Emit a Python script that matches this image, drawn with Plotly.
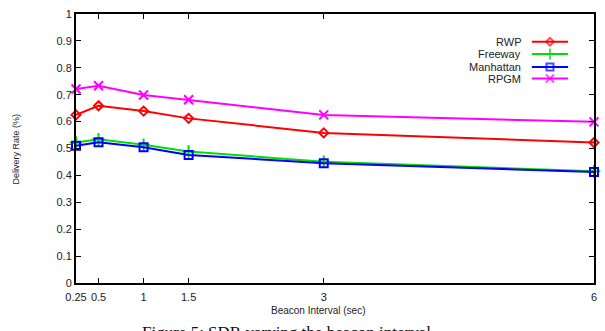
import plotly.graph_objects as go

# Beacon interval (sec) and delivery rate per mobility model
beacon = [0.25, 0.5, 1, 1.5, 3, 6]
rwp = [0.625, 0.659, 0.639, 0.612, 0.558, 0.522]
freeway = [0.522, 0.534, 0.514, 0.489, 0.451, 0.415]
manhattan = [0.510, 0.523, 0.505, 0.476, 0.445, 0.413]
rpgm = [0.721, 0.733, 0.699, 0.681, 0.625, 0.599]

names = ["RWP", "Freeway", "Manhattan", "RPGM"]
series = [rwp, freeway, manhattan, rpgm]
colors = ["#ff0000", "#00e000", "#0000ff", "#ff00ff"]
symbols = ["diamond-open", "cross-thin-open", "square-open", "x-thin-open"]
sizes = [7, 9, 8, 9]
key_sizes = [6, 8, 7, 8]

x_ticks = [0.25, 0.5, 1, 1.5, 3, 6]
x_tick_text = ["0.25", "0.5", "1", "1.5", "3", "6"]
y_ticks = [0, 0.1, 0.2, 0.3, 0.4, 0.5, 0.6, 0.7, 0.8, 0.9, 1]
y_tick_text = ["0", "0.1", "0.2", "0.3", "0.4", "0.5", "0.6", "0.7", "0.8", "0.9", "1"]

FONT = "Liberation Sans, Arial, sans-serif"

fig = go.Figure()
for name, ys, c, s, sz in zip(names, series, colors, symbols, sizes):
    fig.add_trace(go.Scatter(
        x=beacon, y=ys, name=name, mode="lines+markers",
        line=dict(color=c, width=2),
        marker=dict(symbol=s, size=sz, color=c, line=dict(color=c, width=2)),
        cliponaxis=False, showlegend=False,
    ))

# Key in the upper right: label on the left, line sample on the right
key_y = [0.897, 0.851, 0.803, 0.760]
for name, c, s, sz, ky in zip(names, colors, symbols, key_sizes, key_y):
    fig.add_trace(go.Scatter(
        x=[0.880, 0.915, 0.950], y=[ky, ky, ky], mode="lines+markers",
        line=dict(color=c, width=2),
        marker=dict(symbol=s, size=[0, sz, 0], color=c, line=dict(color=c, width=2)),
        xaxis="x2", yaxis="y2", showlegend=False, hoverinfo="skip", cliponaxis=False,
    ))
    fig.add_annotation(
        x=0.862, y=ky, xref="x2", yref="y2", text=name, showarrow=False,
        xanchor="right", yanchor="middle", font=dict(family=FONT, size=11, color="#222"),
    )

axis_common = dict(
    showline=True, linecolor="black", linewidth=2, mirror="allticks",
    ticks="inside", ticklen=5, tickwidth=1, tickcolor="black",
    showgrid=False, zeroline=False,
    tickfont=dict(family=FONT, size=11, color="#222"),
)

fig.update_layout(
    width=605, height=331,
    margin=dict(l=76, r=11, t=8, b=48),
    paper_bgcolor="white", plot_bgcolor="white",
    xaxis=dict(range=[0.25, 6], tickvals=x_ticks, ticktext=x_tick_text,
               ticklabelstandoff=3, **axis_common),
    yaxis=dict(range=[0, 1], tickvals=y_ticks, ticktext=y_tick_text, **axis_common),
    xaxis2=dict(range=[0, 1], overlaying="x", visible=False),
    yaxis2=dict(range=[0, 1], overlaying="y", visible=False),
    annotations=list(fig.layout.annotations) + [
        dict(text="Delivery Rate (%)", x=-0.116, y=0.5, xref="paper", yref="paper",
             textangle=-90, showarrow=False, xanchor="center", yanchor="middle",
             font=dict(family=FONT, size=9, color="#222")),
        dict(text="Beacon Interval (sec)", x=0.469, y=-0.075, xref="paper", yref="paper",
             showarrow=False, xanchor="center", yanchor="top",
             font=dict(family=FONT, size=10, color="#222")),
        dict(text="Figure 5: SDR varying the beacon interval", x=0.123, y=-0.14,
             xref="paper", yref="paper", showarrow=False, xanchor="left", yanchor="top",
             font=dict(family="Liberation Serif, Times New Roman, serif", size=17, color="#111")),
    ],
)

fig.write_html("out.html")
